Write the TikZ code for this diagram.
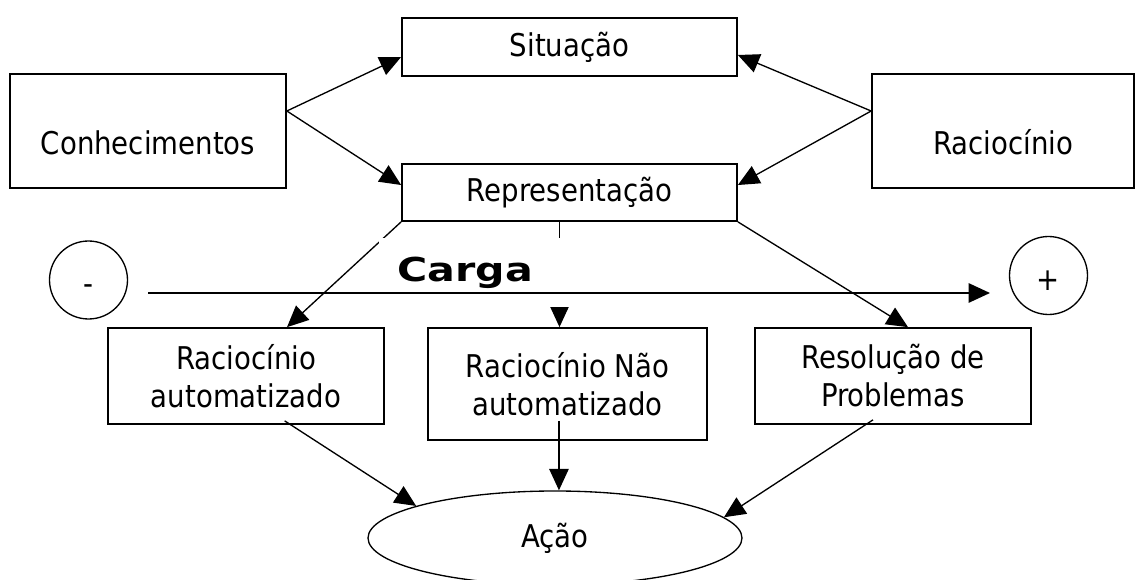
\documentclass[tikz,border=0pt]{standalone}
\usepackage{fontspec}
\setmainfont{DejaVu Sans}[FakeStretch=0.88]
\newfontfamily\cargafont{DejaVu Sans}[FakeStretch=1.25]
\usetikzlibrary{calc}
\usetikzlibrary{arrows.meta}
\usetikzlibrary{shapes.geometric}

\begin{document}
\begin{tikzpicture}[x=0.75pt,y=-0.75pt,>={Triangle[length=16pt,width=14.5pt]},
    caixa/.style={draw,line width=1.3pt,font=\fontsize{23.5}{28.5}\selectfont,align=center,inner sep=0pt},
    seta/.style={->,line width=1pt},
    baixo/.style={text height=36pt,text depth=0pt},
    bola/.style={circle,draw,line width=1pt,minimum size=58.5pt,inner sep=0pt,text height=22pt,text depth=0pt,font=\fontsize{23.5}{28.5}\selectfont}]
    \useasboundingbox (0,0) rectangle (1136,580);
    % caixas
    \node[caixa,minimum width=251.25pt,minimum height=43.5pt] (sit) at (569.5,47) {Situação};
    \node[caixa,minimum width=251.25pt,minimum height=42.75pt] (rep) at (569.5,192.5) {Representação};
    \node[caixa,baixo,minimum width=207pt,minimum height=85.5pt] (con) at (148,131) {Conhecimentos};
    \node[caixa,baixo,minimum width=196.5pt,minimum height=85.5pt] (rac) at (1003,131) {Raciocínio};
    \node[caixa,minimum width=207pt,minimum height=72pt] (auto) at (246,376) {Raciocínio\\automatizado};
    \node[caixa,minimum width=209.25pt,minimum height=84pt] (nao) at (567.5,384) {Raciocínio Não\\automatizado};
    \node[caixa,minimum width=207pt,minimum height=72pt] (resol) at (893,376) {Resolução de\\Problemas};
    \node[caixa,ellipse,line width=1pt,minimum width=280.5pt,minimum height=70.5pt] (acao) at (555,538) {Ação};
    \node[bola] (menos) at (88.5,280) {-};
    \node[bola] (mais) at (1048.5,275.5) {+};
    % setas de cima
    \draw[seta] ([yshift=15pt]con.east) -- ([yshift=-7.5pt]sit.west);
    \draw[seta] ([yshift=15pt]con.east) -- ([yshift=5.6pt]rep.west);
    \draw[seta] ([yshift=15pt]rac.west) -- ([yshift=-6pt]sit.east);
    \draw[seta] ([yshift=15pt]rac.west) -- ([yshift=5.6pt]rep.east);
    % setas do meio
    \draw[seta] (rep.south west) -- ([xshift=30.75pt]auto.north);
    \draw[seta] ([xshift=-7.5pt]rep.south) -- ([xshift=-7.5pt]rep.south |- nao.north);
    \draw[seta] (rep.south east) -- ([xshift=11.25pt]resol.north);
    % setas de baixo
    \draw[seta] ([xshift=29pt,yshift=3pt]auto.south) -- (acao.167);
    \draw[seta] ([xshift=-6.4pt,yshift=15pt]nao.south) -- ([xshift=-6.4pt]nao.south |- acao.north);
    \draw[seta] ([xshift=-15pt,yshift=3.75pt]resol.south) -- (acao.7);
    % carga
    \node[fill=white,inner xsep=13.5pt,inner ysep=0pt,text width=116.25pt,minimum height=51.75pt,align=left,
        font=\cargafont\bfseries\fontsize{24.7}{30}\selectfont,anchor=north west] (carga) at (379,238) {Carga};
    \coordinate (cargaini) at (148,293);
    \coordinate (cargafim) at (990,293);
    \draw[seta,line width=1.3pt] (cargaini) -- (cargafim);
\end{tikzpicture}
\end{document}
